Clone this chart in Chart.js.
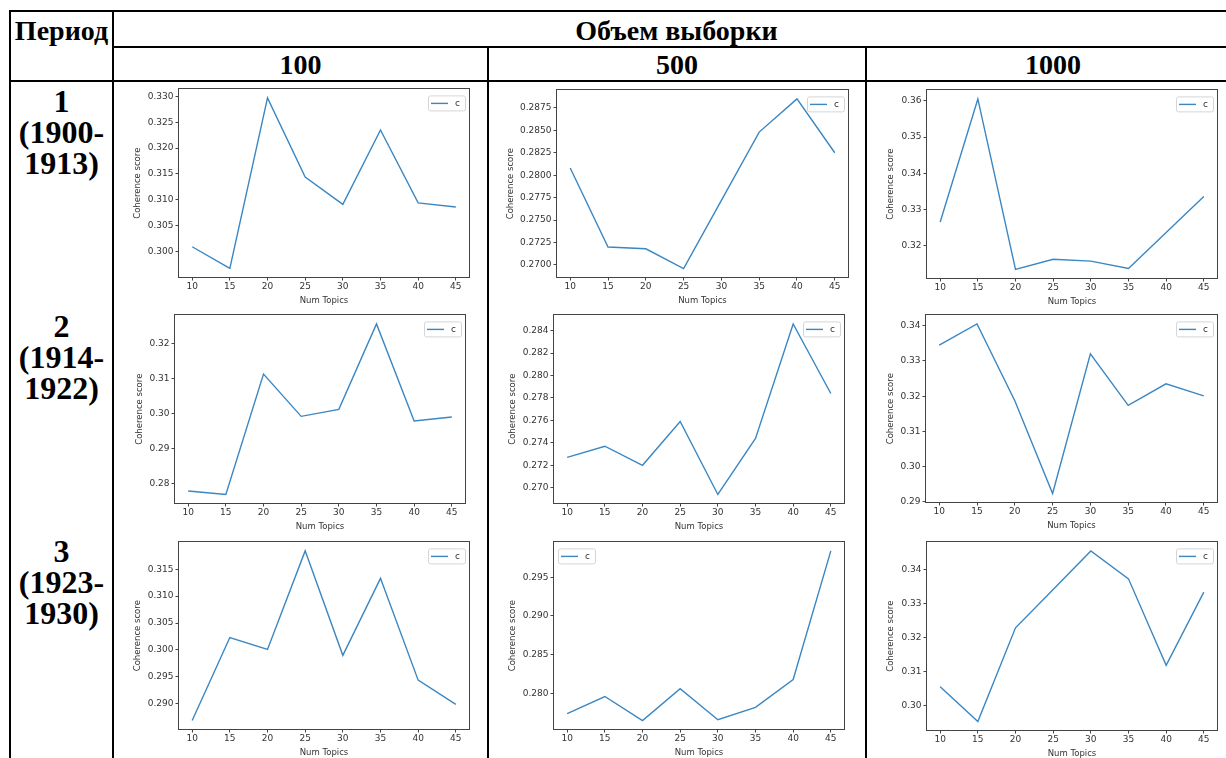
<!doctype html>
<html>
<head>
<meta charset="utf-8">
<title>Coherence score</title>
<script src="https://cdn.jsdelivr.net/npm/chart.js"></script>
<style>
  body { margin: 0; background: #fff; width: 1226px; height: 758px; overflow: hidden; position: relative; font-family: "Liberation Serif", "Times New Roman", serif; }
  .ln { position: absolute; background: #000; }
  .hd { position: absolute; font-weight: bold; font-size: 28px; line-height: 30px; text-align: center; color: #000; white-space: nowrap; }
  .rl { position: absolute; font-weight: bold; font-size: 32px; line-height: 31px; text-align: center; color: #000; white-space: nowrap; }
  canvas { position: absolute; }
</style>
</head>
<body>
<div id="page"></div>
<script>
// x values shared by every plot
var numTopics = [10, 15, 20, 25, 30, 35, 40, 45];
var sampleSizes = ['100', '500', '1000'];
var periodLabels = [['1', '(1900-', '1913)'], ['2', '(1914-', '1922)'], ['3', '(1923-', '1930)']];

// coherence score, period 1
var p1_100  = [0.3009, 0.2967, 0.3297, 0.3144, 0.3091, 0.3235, 0.3094, 0.3086];
var p1_500  = [0.2808, 0.2720, 0.2718, 0.2696, 0.2772, 0.2848, 0.2885, 0.2825];
var p1_1000 = [0.3266, 0.3605, 0.3135, 0.3163, 0.3158, 0.3138, 0.3237, 0.3336];
// period 2
var p2_100  = [0.2778, 0.2768, 0.3113, 0.2992, 0.3012, 0.3257, 0.2979, 0.2990];
var p2_500  = [0.2727, 0.2737, 0.2720, 0.2759, 0.2694, 0.2744, 0.2846, 0.2784];
var p2_1000 = [0.3345, 0.3405, 0.3187, 0.2924, 0.3320, 0.3174, 0.3235, 0.3201];
// period 3
var p3_100  = [0.2869, 0.3023, 0.3001, 0.3184, 0.2990, 0.3133, 0.2944, 0.2899];
var p3_500  = [0.2774, 0.2796, 0.2765, 0.2806, 0.2766, 0.2782, 0.2818, 0.2984];
var p3_1000 = [0.3056, 0.2954, 0.3229, 0.3342, 0.3455, 0.3373, 0.3119, 0.3334];

// y tick labels
var t1_100  = ['0.300', '0.305', '0.310', '0.315', '0.320', '0.325', '0.330'];
var t1_500  = ['0.2700', '0.2725', '0.2750', '0.2775', '0.2800', '0.2825', '0.2850', '0.2875'];
var t1_1000 = ['0.32', '0.33', '0.34', '0.35', '0.36'];
var t2_100  = ['0.28', '0.29', '0.30', '0.31', '0.32'];
var t2_500  = ['0.270', '0.272', '0.274', '0.276', '0.278', '0.280', '0.282', '0.284'];
var t2_1000 = ['0.29', '0.30', '0.31', '0.32', '0.33', '0.34'];
var t3_100  = ['0.290', '0.295', '0.300', '0.305', '0.310', '0.315'];
var t3_500  = ['0.280', '0.285', '0.290', '0.295'];
var t3_1000 = ['0.30', '0.31', '0.32', '0.33', '0.34'];

var plots = [
    { data: p1_100, ticks: t1_100 }, { data: p1_500, ticks: t1_500 }, { data: p1_1000, ticks: t1_1000 },
    { data: p2_100, ticks: t2_100 }, { data: p2_500, ticks: t2_500 }, { data: p2_1000, ticks: t2_1000 },
    { data: p3_100, ticks: t3_100 }, { data: p3_500, ticks: t3_500, legendLeft: true }, { data: p3_1000, ticks: t3_1000 }
];

// plot area on the page: left, top, right, bottom, x of y-axis title
var plotBoxes = [
    [179, 88, 469, 277, 138], [557, 89, 848, 277, 511], [927, 89, 1217, 278, 891],
    [175, 314, 465, 503, 140], [554, 314, 844, 503, 513], [926, 314, 1217, 502, 891],
    [179, 541, 469, 729, 138], [554, 541, 844, 729, 513], [927, 541, 1217, 730, 891]
];

var page = document.getElementById('page');

function put(cls, x, y, w, h, text) {
    var d = document.createElement('div');
    d.className = cls;
    d.style.left = x + 'px';
    d.style.top = y + 'px';
    d.style.width = w + 'px';
    if (h) d.style.height = h + 'px';
    if (text) d.innerHTML = text;
    page.appendChild(d);
}

// table grid
put('ln', 9, 10, 1231, 2);
put('ln', 113, 46, 1127, 2);
put('ln', 9, 80, 1231, 2);
put('ln', 9, 10, 2, 748);
put('ln', 112, 10, 2, 748);
put('ln', 487, 46, 2, 712);
put('ln', 865, 46, 2, 712);

// headers
put('hd', 10, 16, 103, 0, 'Период');
put('hd', 113, 16, 1127, 0, 'Объем выборки');
var colEdges = [113, 488, 866, 1240];
sampleSizes.forEach(function (s, i) {
    put('hd', colEdges[i], 50, colEdges[i + 1] - colEdges[i], 0, s);
});
var rowTops = [86, 311, 536];
periodLabels.forEach(function (lines, i) {
    put('rl', 10, rowTops[i], 103, 0, lines.join('<br>'));
});

Chart.defaults.font.family = 'DejaVu Sans';
Chart.defaults.font.size = 9;
Chart.defaults.color = '#333';

var frame = {
    id: 'frame',
    beforeDatasetsDraw: function (chart) {
        var a = chart.chartArea, c = chart.ctx;
        c.save();
        c.strokeStyle = '#444';
        c.lineWidth = 1;
        c.strokeRect(Math.round(a.left) - 0.5, Math.round(a.top) - 0.5, Math.round(a.right - a.left) + 1, Math.round(a.bottom - a.top) + 1);
        c.restore();
    }
};

function makeLegend(left) {
    return {
        id: 'legendBox',
        afterDatasetsDraw: function (chart) {
            var ca = chart.chartArea, ctx = chart.ctx, ds = chart.data.datasets[0];
            var w = 37, h = 15;
            var x = left ? ca.left + 4 : ca.right - 4 - w;
            var y = ca.top + 6;
            ctx.save();
            ctx.beginPath();
            ctx.roundRect(x + 0.5, y + 0.5, w, h, 2);
            ctx.fillStyle = 'rgba(255,255,255,0.8)';
            ctx.fill();
            ctx.strokeStyle = '#d5d5d5';
            ctx.lineWidth = 1;
            ctx.stroke();
            ctx.beginPath();
            ctx.moveTo(x + 3, y + h / 2 + 0.5);
            ctx.lineTo(x + 20, y + h / 2 + 0.5);
            ctx.strokeStyle = ds.borderColor;
            ctx.lineWidth = ds.borderWidth;
            ctx.stroke();
            ctx.fillStyle = '#333';
            ctx.font = '9px "DejaVu Sans"';
            ctx.textBaseline = 'middle';
            ctx.fillText(ds.label, x + 27, y + h / 2 + 0.5);
            ctx.restore();
        }
    };
}

plots.forEach(function (p, i) {
    var b = plotBoxes[i];
    var padT = 6, padR = 8, xh = 29;
    var yw = Math.round(b[0] - b[4] + 5.1);
    var w = b[2] - b[0] + yw + padR;
    var h = b[3] - b[1] + padT + xh;
    var cv = document.createElement('canvas');
    cv.width = w;
    cv.height = h;
    cv.style.left = (b[0] - yw) + 'px';
    cv.style.top = (b[1] - padT) + 'px';
    page.appendChild(cv);

    var lo = Math.min.apply(null, p.data), hi = Math.max.apply(null, p.data);
    var m = (hi - lo) * 0.05;
    var tickVals = p.ticks.map(parseFloat);

    new Chart(cv.getContext('2d'), {
        type: 'line',
        data: {
            datasets: [{
                label: 'c',
                data: numTopics.map(function (x, j) { return { x: x, y: p.data[j] }; }),
                borderColor: '#3a87c3',
                borderWidth: 1.4,
                pointRadius: 0,
                tension: 0,
                fill: false
            }]
        },
        options: {
            responsive: false,
            animation: false,
            layout: { padding: { top: padT, right: padR, left: 0, bottom: 0 } },
            plugins: { legend: { display: false }, tooltip: { enabled: false } },
            scales: {
                x: {
                    type: 'linear',
                    min: 8.25,
                    max: 46.75,
                    afterBuildTicks: function (sc) { sc.ticks = numTopics.map(function (v) { return { value: v }; }); },
                    afterFit: function (sc) { sc.height = xh; },
                    ticks: { padding: 1, maxRotation: 0, callback: function (v) { return String(v); } },
                    grid: { display: true, drawOnChartArea: false, tickLength: 3.5, tickColor: '#444' },
                    border: { display: false },
                    title: { display: true, text: 'Num Topics', font: { size: 8.5 }, padding: 0 }
                },
                y: {
                    min: lo - m,
                    max: hi + m,
                    afterBuildTicks: function (sc) { sc.ticks = tickVals.map(function (v) { return { value: v }; }); },
                    afterFit: function (sc) { sc.width = yw; },
                    ticks: { padding: 2, callback: function (v, idx) { return p.ticks[idx]; } },
                    grid: { display: true, drawOnChartArea: false, tickLength: 3.5, tickColor: '#444' },
                    border: { display: false },
                    title: { display: true, text: 'Coherence score', font: { size: 8.5 }, padding: 0 }
                }
            }
        },
        plugins: [frame, makeLegend(p.legendLeft)]
    });
});
</script>
</body>
</html>
